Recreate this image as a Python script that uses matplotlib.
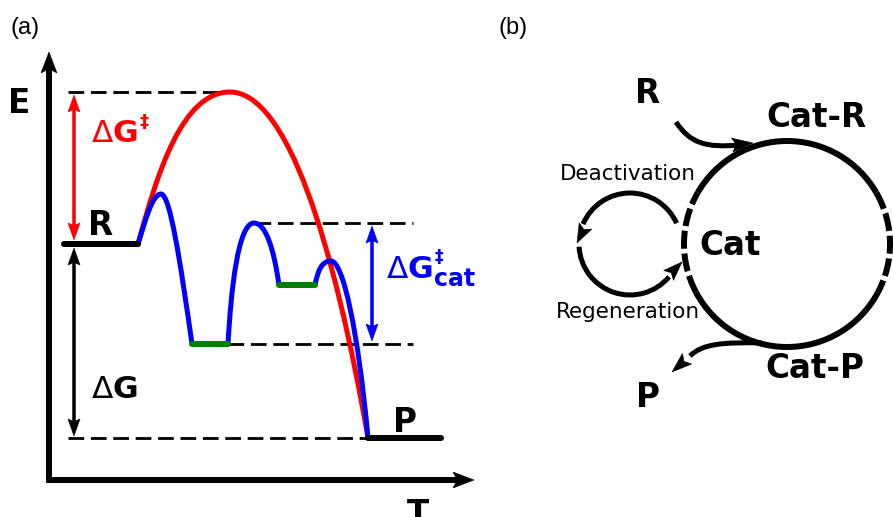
import numpy as np
import matplotlib
matplotlib.use("Agg")
import matplotlib.pyplot as plt
from matplotlib.path import Path
from matplotlib.patches import PathPatch, Polygon, Arc

plt.rcParams["mathtext.fontset"] = "dejavusans"

# Canvas is laid out in pixel-like units, y growing downward.
W, H = 893, 517

# ---------------- panel (a): energy profile ----------------
axis_x, axis_y = 49, 480          # corner of the E / T axes
axis_top, axis_right = 52, 474     # arrow tips

level_TS = 92      # uncatalysed transition state
level_R = 244      # reactant
level_TScat = 223  # highest catalysed barrier
level_I2 = 285     # second intermediate
level_I1 = 344     # first intermediate
level_P = 438      # product

R_span = (64, 138)
P_span = (368, 441)
I1_span = (192, 228)
I2_span = (279, 315)

# uncatalysed path: R -> TS -> P (two cubic Bezier pieces)
red_x = [138, 158, 183, 230, 287, 334, 368]
red_y = [244, 170, 92, 92, 92, 243, 438]

# catalysed path: three humps, each two cubic Bezier pieces
blue_x = [[138, 145, 152, 161, 170, 180, 192],
          [228, 231, 238, 254, 266, 274, 279],
          [315, 318, 322, 331, 343, 358, 368]]
blue_y = [[244, 222, 194, 194, 194, 260, 344],
          [344, 290, 223, 223, 223, 250, 285],
          [285, 270, 261, 261, 261, 330, 438]]

# dashed guide lines: (x start, x end, level)
guides = [(68, 230, level_TS), (68, 367, level_P),
          (255, 413, level_TScat), (228, 413, level_I1)]

# double arrows: (x, top tip, bottom tip, colour)
span_arrows = [(74, 95, 240, "#ff0000"),
               (74, 248, 436, "#000000"),
               (372, 226, 341, "#0000ff")]

# ---------------- panel (b): catalytic cycle ----------------
cycle_c = (787, 244)
cycle_r = 103
cycle_solid = [(30, 150), (208, 332)]      # degrees, counter-clockwise on screen
cycle_dashed = [(150, 208), (332, 390)]

loop_c = (630, 244)
loop_r = 51
deact_arc = (24, 157)
regen_arc = (183, 320)

PT = 72 / 100  # points per pixel


def lw(px):
    return px * PT


fig = plt.figure(figsize=(W / 100, H / 100), dpi=100)
ax = fig.add_axes([0, 0, 1, 1])
ax.set_xlim(0, W)
ax.set_ylim(H, 0)
ax.axis("off")


def head(tip, direction, length, width, color, notch=0.25, z=6):
    d = np.asarray(direction, float)
    d = d / np.hypot(*d)
    n = np.array([-d[1], d[0]])
    tip = np.asarray(tip, float)
    base = tip - d * length
    pts = [tip, base + n * width / 2, tip - d * length * (1 - notch),
           base - n * width / 2]
    ax.add_patch(Polygon(pts, closed=True, facecolor=color, edgecolor=color,
                         lw=0.4, zorder=z))
    return tip - d * length * (1 - notch)


def bezier(xs, ys, color, width, z=3, cap="round"):
    verts = list(zip(xs, ys))
    codes = [Path.MOVETO] + [Path.CURVE4] * (len(verts) - 1)
    ax.add_patch(PathPatch(Path(verts, codes), facecolor="none", edgecolor=color,
                           lw=lw(width), capstyle=cap, joinstyle="round", zorder=z))


def screen_arc(c, r, a1, a2, width, style="-", z=3):
    # screen angles (counter-clockwise) -> data angles on the flipped y axis
    ax.add_patch(Arc(c, 2 * r, 2 * r, theta1=-a2, theta2=-a1, color="black",
                     lw=lw(width), linestyle=style, zorder=z))


# axes of the profile
ax.plot([axis_x, axis_x], [axis_y, axis_top + 14], color="black", lw=lw(6),
        solid_capstyle="butt", zorder=4)
ax.plot([axis_x - 3, axis_right - 14], [axis_y, axis_y], color="black", lw=lw(6),
        solid_capstyle="butt", zorder=4)
head((axis_x, axis_top), (0, -1), 21, 16, "black", notch=0.2)
head((axis_right, axis_y), (1, 0), 21, 16, "black", notch=0.2)

# dashed guides
for x0, x1, y in guides:
    ax.plot([x0, x1], [y, y], color="black", lw=lw(2.8),
            linestyle=(0, (5.6, 2.4)), zorder=2)

# uncatalysed and catalysed paths
bezier(red_x, red_y, "#ff0000", 5, z=3)
for xs, ys in zip(blue_x, blue_y):
    bezier(xs, ys, "#0000ff", 5, z=4)

# stationary levels
ax.plot(R_span, [level_R, level_R], color="black", lw=lw(6), solid_capstyle="round", zorder=5)
ax.plot(P_span, [level_P, level_P], color="black", lw=lw(6), solid_capstyle="round", zorder=5)
ax.plot(I1_span, [level_I1, level_I1], color="#008000", lw=lw(6), solid_capstyle="round", zorder=5)
ax.plot(I2_span, [level_I2, level_I2], color="#008000", lw=lw(6), solid_capstyle="round", zorder=5)

# span arrows
for x, ytop, ybot, col in span_arrows:
    a = head((x, ytop), (0, -1), 17, 12, col, notch=0.15)
    b = head((x, ybot), (0, 1), 17, 12, col, notch=0.15)
    ax.plot([x, x], [a[1], b[1]], color=col, lw=lw(3.5), solid_capstyle="butt", zorder=5)

LABEL = 23.5
bold = dict(fontfamily="DejaVu Sans", fontweight="bold", va="baseline")
ax.text(8, 113, "E", fontsize=LABEL, ha="left", **bold)
ax.text(418, 524, "T", fontsize=LABEL, ha="center", **bold)
ax.text(88, 235, "R", fontsize=LABEL, ha="left", **bold)
ax.text(393, 432, "P", fontsize=LABEL, ha="left", **bold)

# energy differences: regular delta, bold G, bold double dagger
ax.text(91, 142, r"$\Delta\mathbf{G}$", fontsize=22.5, color="#ff0000",
        ha="left", va="baseline")
ax.text(139, 127, "\u2021", fontsize=13, color="#ff0000", ha="left", **bold)
ax.text(91, 398, r"$\Delta\mathbf{G}$", fontsize=22.5, color="black",
        ha="left", va="baseline")
ax.text(386, 278, r"$\Delta\mathbf{G}$", fontsize=22.5, color="#0000ff",
        ha="left", va="baseline")
ax.text(435, 262, "\u2021", fontsize=12.5, color="#0000ff", ha="left", **bold)
ax.text(434, 286, "cat", fontsize=17, color="#0000ff", ha="left", **bold)

# ---------------- panel (b) ----------------
for a1, a2 in cycle_solid:
    screen_arc(cycle_c, cycle_r, a1, a2, 6)
for a1, a2 in cycle_dashed:
    screen_arc(cycle_c, cycle_r, a1, a2, 6, style=(0, (3.0, 0.8)))

screen_arc(loop_c, loop_r, *deact_arc, 5)
head((577, 243), (-0.45, 0.9), 19, 14, "black", notch=0.2)
screen_arc(loop_c, loop_r, *regen_arc, 5)
head((682, 262), (0.7, -0.7), 19, 14, "black", notch=0.2)

# substrate in, product out
bezier([676, 690, 705, 740], [122, 143, 148, 145], "black", 5, cap="butt")
head((753, 143), (1, -0.1), 21, 14, "black", notch=0.2)
bezier([762, 722, 702, 690], [343, 342, 344, 356], "black", 5, cap="butt")
head((672, 372), (-0.75, 0.66), 20, 14, "black", notch=0.2)

ax.text(648, 103, "R", fontsize=LABEL, ha="center", **bold)
ax.text(816, 127, "Cat-R", fontsize=LABEL, ha="center", **bold)
ax.text(699, 255, "Cat", fontsize=LABEL, ha="left", **bold)
ax.text(815, 378, "Cat-P", fontsize=LABEL, ha="center", **bold)
ax.text(648, 407, "P", fontsize=LABEL, ha="center", **bold)
ax.text(628, 180, "Deactivation", fontsize=15.5, ha="center", va="baseline",
        fontfamily="DejaVu Sans")
ax.text(628, 318, "Regeneration", fontsize=15.5, ha="center", va="baseline",
        fontfamily="DejaVu Sans")

ax.text(10, 34, "(a)", fontsize=17, ha="left", va="baseline", fontfamily="Liberation Sans")
ax.text(498, 34, "(b)", fontsize=17, ha="left", va="baseline", fontfamily="Liberation Sans")

fig.savefig("out.png", dpi=100)
